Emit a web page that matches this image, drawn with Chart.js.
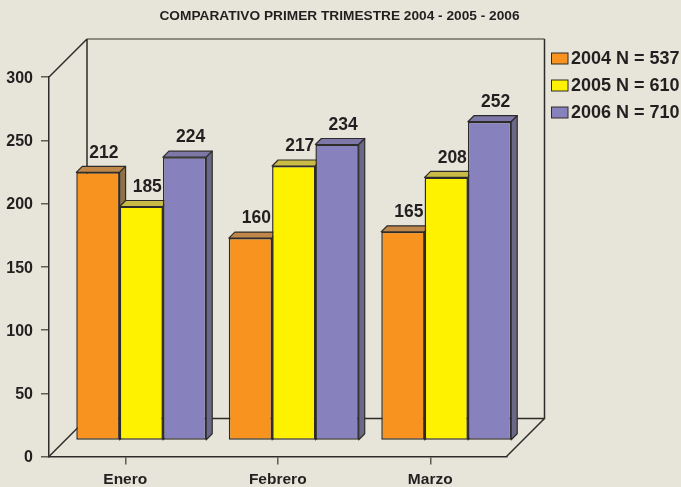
<!DOCTYPE html>
<html>
<head>
<meta charset="utf-8">
<style>
html,body{margin:0;padding:0;background:#e7e5d9;}
#wrap{position:relative;width:681px;height:487px;}
canvas{display:block;}
</style>
<script src="https://cdn.jsdelivr.net/npm/chart.js@4"></script>
</head>
<body>
<div id="wrap"><canvas id="c" width="681" height="487"></canvas></div>
<script>
const chartTitle = "COMPARATIVO PRIMER TRIMESTRE 2004 - 2005 - 2006";
const categories = ["Enero", "Febrero", "Marzo"];
const seriesNames = ["2004 N = 537", "2005 N = 610", "2006 N = 710"];
const values2004 = [212, 160, 165];
const values2005 = [185, 217, 208];
const values2006 = [224, 234, 252];
const yTicksMax = 300;
const yTickStep = 50;

const frontColors = ["#f7931e", "#fff200", "#8781bd"];
const topColors   = ["#c0874a", "#c9bb45", "#7e78a8"];
const sideColors  = ["#8f7048", "#8f8a3a", "#6a6887"];
const inkColor = "#231f20";
const lineColor = "#2e2c2a";
const topLineColor = "#6f6d65";
const tickColor = "#5f5d58";
const fontFamily = '"Liberation Sans", Arial, sans-serif';

const wallDepth = 38;
const barInset = 16;
const barDepth = 6;

function poly(ctx, pts, fill) {
  ctx.beginPath();
  pts.forEach((p, i) => i ? ctx.lineTo(p[0], p[1]) : ctx.moveTo(p[0], p[1]));
  ctx.closePath();
  if (fill) { ctx.fillStyle = fill; ctx.fill(); }
  ctx.stroke();
}

const box3d = {
  id: "box3d",
  beforeDatasetsDraw(chart) {
    const {ctx, chartArea: a} = chart;
    const d = wallDepth;
    ctx.save();
    ctx.lineWidth = 1.5;
    ctx.strokeStyle = topLineColor;
    ctx.beginPath();
    ctx.moveTo(a.left + d, a.top - d); ctx.lineTo(a.right + d, a.top - d);
    ctx.stroke();
    ctx.strokeStyle = lineColor;
    ctx.beginPath();
    ctx.moveTo(a.left, a.top); ctx.lineTo(a.left + d, a.top - d);
    ctx.moveTo(a.right + d, a.top - d); ctx.lineTo(a.right + d, a.bottom - d);
    ctx.lineTo(a.left + d, a.bottom - d); ctx.lineTo(a.left + d, a.top - d);
    ctx.moveTo(a.left, a.bottom); ctx.lineTo(a.left + d, a.bottom - d);
    ctx.moveTo(a.right, a.bottom); ctx.lineTo(a.right + d, a.bottom - d);
    ctx.stroke();
    ctx.restore();
  },
  // The library paints datasets last-to-first; this picture needs first-to-last,
  // so its own pass is held back and replayed below in the painter's order.
  beforeDatasetDraw() {
    return false;
  },
  afterDatasetsDraw(chart) {
    const ctx = chart.ctx;
    chart.data.datasets.forEach((ds, i) => {
      const meta = chart.getDatasetMeta(i);
      ctx.save();
      ctx.translate(barInset, -barInset);
      ctx.strokeStyle = lineColor;
      ctx.lineWidth = 1.2;
      ctx.lineJoin = "round";
      meta.data.forEach(b => {
        const l = b.x - b.width / 2, r = b.x + b.width / 2, t = b.y, bt = b.base, k = barDepth;
        poly(ctx, [[l, t], [l + k, t - k], [r + k, t - k], [r, t]], topColors[i]);
        poly(ctx, [[r, t], [r + k, t - k], [r + k, bt - k], [r, bt]], sideColors[i]);
      });
      meta.controller.draw();
      ctx.restore();
    });

    ctx.save();
    ctx.fillStyle = inkColor;
    ctx.textAlign = "center";
    ctx.textBaseline = "middle";
    ctx.font = "bold 17.5px " + fontFamily;
    chart.data.datasets.forEach((ds, i) => {
      chart.getDatasetMeta(i).data.forEach((b, j) => {
        ctx.fillText(String(ds.data[j]), b.x + barInset + barDepth, b.y - barInset - barDepth - 13.5);
      });
    });
    ctx.font = "bold 13.7px " + fontFamily;
    ctx.fillText(chartTitle, 339.5, 16);
    ctx.textAlign = "left";
    ctx.font = "bold 18px " + fontFamily;
    const ax = 551.5;
    seriesNames.forEach((name, i) => {
      const y = 58.5 + i * 27;
      ctx.fillStyle = frontColors[i];
      ctx.strokeStyle = lineColor;
      ctx.lineWidth = 1;
      ctx.fillRect(ax, y - 5.5, 16.5, 11);
      ctx.strokeRect(ax, y - 5.5, 16.5, 11);
      ctx.fillStyle = inkColor;
      ctx.fillText(name, ax + 19.5, y + 0.5);
    });
    ctx.restore();
  }
};

const seriesValues = [values2004, values2005, values2006];
new Chart(document.getElementById("c"), {
  type: "bar",
  data: {
    labels: categories,
    datasets: seriesValues.map((vals, i) => ({
      label: seriesNames[i],
      data: vals,
      clip: false,
      backgroundColor: frontColors[i],
      borderColor: lineColor,
      borderWidth: 1.5,
      borderSkipped: false,
      categoryPercentage: 0.852,
      barPercentage: 1
    }))
  },
  options: {
    responsive: false,
    animation: false,
    layout: {padding: {top: 77, right: 174.5, left: 0, bottom: 0}},
    plugins: {legend: {display: false}, title: {display: false}, tooltip: {enabled: false}},
    scales: {
      x: {
        afterFit(s) { s.height = 30.5; },
        grid: {offset: false, drawOnChartArea: false, tickLength: 8, color: tickColor, lineWidth: 1.5},
        border: {color: lineColor, width: 1.5},
        ticks: {color: inkColor, font: {family: fontFamily, size: 15.5, weight: "bold"}, padding: 6, maxRotation: 0}
      },
      y: {
        min: 0,
        max: yTicksMax,
        afterFit(s) { s.width = 49; },
        grid: {drawOnChartArea: false, tickLength: 8, color: tickColor, lineWidth: 1.5},
        border: {color: lineColor, width: 1.5},
        ticks: {stepSize: yTickStep, color: inkColor, font: {family: fontFamily, size: 16, weight: "bold"}, padding: 8, labelOffset: 1.5}
      }
    }
  },
  plugins: [box3d]
});
</script>
</body>
</html>
